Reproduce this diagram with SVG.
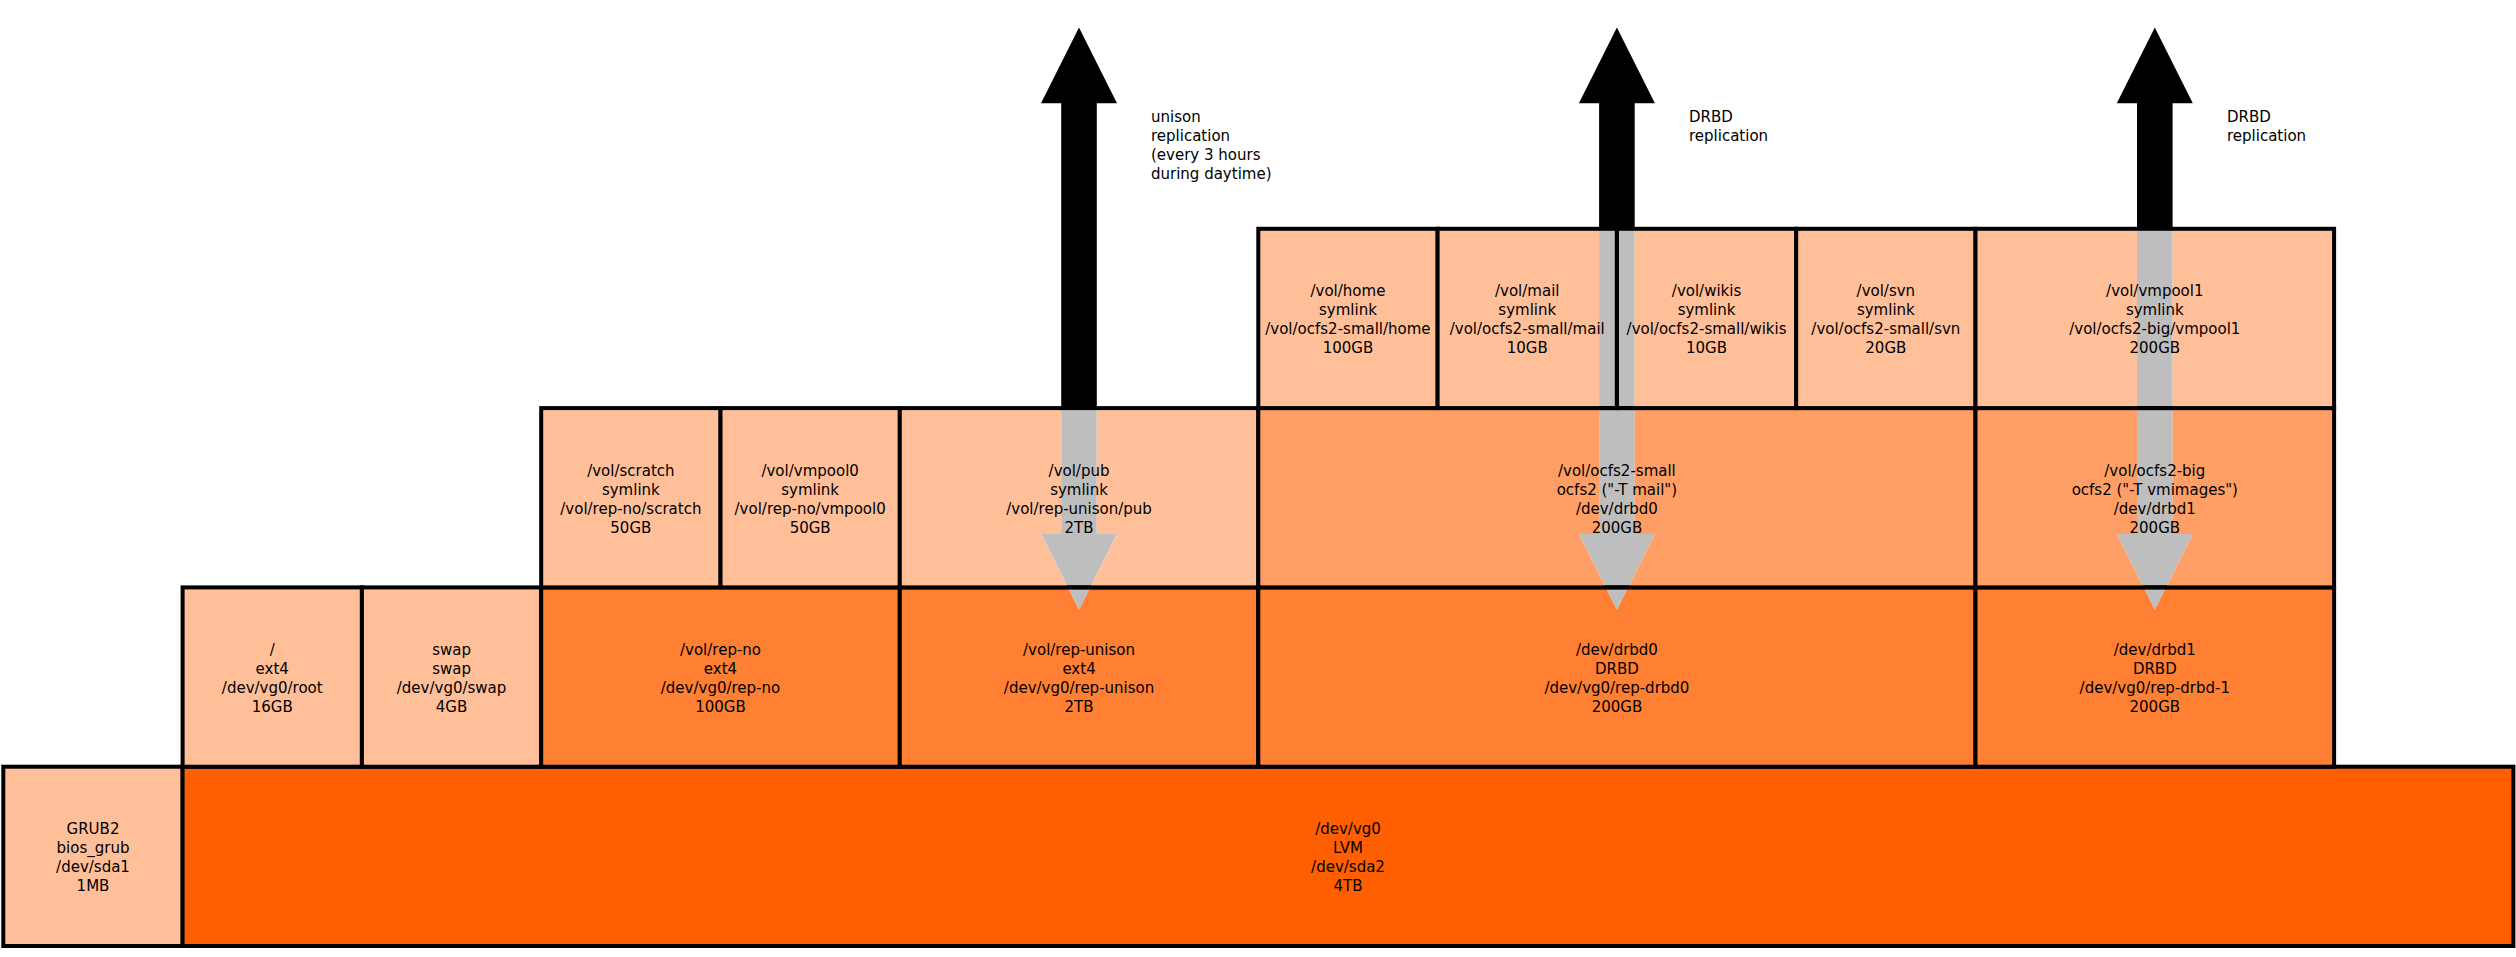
<svg xmlns="http://www.w3.org/2000/svg" xmlns:xlink="http://www.w3.org/1999/xlink" width="2516" height="957" viewBox="0 0 2516 957">
<style>
  .f{stroke:none;mask:url(#holes)}
  .l{fill:#FFBF99}
  .m{fill:#FF9F66}
  .o{fill:#FF7F33}
  .d{fill:#FF5F00}
  .b{fill:none;stroke:#000;stroke-width:4}
  text{font-family:"DejaVu Sans","Liberation Sans",sans-serif;font-size:15px;fill:#000}
  .t{text-anchor:middle}
  .up{fill:#000}
  .gray{fill:#BEBEBE}
</style>
<defs>
  <path id="g1" d="M1061.2,408.1 H1096.8 V534 H1117 L1079,610 L1041,534 H1061.2 Z"/>
  <path id="g2" d="M1599.1,228.8 H1634.7 V534 H1654.9 L1616.9,610 L1578.9,534 H1599.1 Z"/>
  <path id="g3" d="M2137,228.8 H2172.6 V534 H2192.8 L2154.8,610 L2116.8,534 H2137 Z"/>
  <mask id="holes" maskUnits="userSpaceOnUse" x="0" y="0" width="2516" height="957">
    <rect x="0" y="0" width="2516" height="957" fill="#fff"/>
    <use href="#g1" xlink:href="#g1" fill="#000"/>
    <use href="#g2" xlink:href="#g2" fill="#000"/>
    <use href="#g3" xlink:href="#g3" fill="#000"/>
  </mask>
</defs>

<g id="connectors">
  <path class="up" d="M1079,27.5 L1117,103.3 H1096.8 V408.1 H1061.2 V103.3 H1041 Z"/>
  <path class="up" d="M1616.9,27.5 L1654.9,103.3 H1634.7 V228.8 H1599.1 V103.3 H1578.9 Z"/>
  <path class="up" d="M2154.8,27.5 L2192.8,103.3 H2172.6 V228.8 H2137 V103.3 H2116.8 Z"/>
  <use class="gray" href="#g1" xlink:href="#g1"/>
  <use class="gray" href="#g2" xlink:href="#g2"/>
  <use class="gray" href="#g3" xlink:href="#g3"/>
  <text x="1151" y="121.5"><tspan x="1151">unison</tspan><tspan x="1151" dy="19">replication</tspan><tspan x="1151" dy="19">(every 3 hours</tspan><tspan x="1151" dy="19">during daytime)</tspan></text>
  <text x="1689" y="121.5"><tspan x="1689">DRBD</tspan><tspan x="1689" dy="19">replication</tspan></text>
  <text x="2227" y="121.5"><tspan x="2227">DRBD</tspan><tspan x="2227" dy="19">replication</tspan></text>
</g>

<g id="nodes">
  <g id="grub">
    <rect class="f l" x="3.3" y="766.7" width="179.3" height="179.3"/>
    <rect class="b" x="3.3" y="766.7" width="179.3" height="179.3"/>
    <text class="t" y="834.3"><tspan x="93">GRUB2</tspan><tspan x="93" dy="19">bios_grub</tspan><tspan x="93" dy="19">/dev/sda1</tspan><tspan x="93" dy="19">1MB</tspan></text>
  </g>
  <g id="lvm">
    <rect class="f d" x="182.6" y="766.7" width="2330.8" height="179.3"/>
    <rect class="b" x="182.6" y="766.7" width="2330.8" height="179.3"/>
    <text class="t" y="834.3"><tspan x="1348">/dev/vg0</tspan><tspan x="1348" dy="19">LVM</tspan><tspan x="1348" dy="19">/dev/sda2</tspan><tspan x="1348" dy="19">4TB</tspan></text>
  </g>
  <g id="root">
    <rect class="f l" x="182.6" y="587.4" width="179.3" height="179.3"/>
    <rect class="b" x="182.6" y="587.4" width="179.3" height="179.3"/>
    <text class="t" y="655"><tspan x="272.25">/</tspan><tspan x="272.25" dy="19">ext4</tspan><tspan x="272.25" dy="19">/dev/vg0/root</tspan><tspan x="272.25" dy="19">16GB</tspan></text>
  </g>
  <g id="swap">
    <rect class="f l" x="361.9" y="587.4" width="179.3" height="179.3"/>
    <rect class="b" x="361.9" y="587.4" width="179.3" height="179.3"/>
    <text class="t" y="655"><tspan x="451.55">swap</tspan><tspan x="451.55" dy="19">swap</tspan><tspan x="451.55" dy="19">/dev/vg0/swap</tspan><tspan x="451.55" dy="19">4GB</tspan></text>
  </g>
  <g id="rep-no">
    <rect class="f o" x="541.2" y="587.4" width="358.6" height="179.3"/>
    <rect class="b" x="541.2" y="587.4" width="358.6" height="179.3"/>
    <text class="t" y="655"><tspan x="720.5">/vol/rep-no</tspan><tspan x="720.5" dy="19">ext4</tspan><tspan x="720.5" dy="19">/dev/vg0/rep-no</tspan><tspan x="720.5" dy="19">100GB</tspan></text>
  </g>
  <g id="rep-unison">
    <rect class="f o" x="899.8" y="587.4" width="358.5" height="179.3"/>
    <rect class="b" x="899.8" y="587.4" width="358.5" height="179.3"/>
    <text class="t" y="655"><tspan x="1079.05">/vol/rep-unison</tspan><tspan x="1079.05" dy="19">ext4</tspan><tspan x="1079.05" dy="19">/dev/vg0/rep-unison</tspan><tspan x="1079.05" dy="19">2TB</tspan></text>
  </g>
  <g id="drbd0">
    <rect class="f o" x="1258.3" y="587.4" width="717.2" height="179.3"/>
    <rect class="b" x="1258.3" y="587.4" width="717.2" height="179.3"/>
    <text class="t" y="655"><tspan x="1616.9">/dev/drbd0</tspan><tspan x="1616.9" dy="19">DRBD</tspan><tspan x="1616.9" dy="19">/dev/vg0/rep-drbd0</tspan><tspan x="1616.9" dy="19">200GB</tspan></text>
  </g>
  <g id="drbd1">
    <rect class="f o" x="1975.5" y="587.4" width="358.6" height="179.3"/>
    <rect class="b" x="1975.5" y="587.4" width="358.6" height="179.3"/>
    <text class="t" y="655"><tspan x="2154.8">/dev/drbd1</tspan><tspan x="2154.8" dy="19">DRBD</tspan><tspan x="2154.8" dy="19">/dev/vg0/rep-drbd-1</tspan><tspan x="2154.8" dy="19">200GB</tspan></text>
  </g>
  <g id="scratch">
    <rect class="f l" x="541.2" y="408.1" width="179.3" height="179.3"/>
    <rect class="b" x="541.2" y="408.1" width="179.3" height="179.3"/>
    <text class="t" y="475.7"><tspan x="630.85">/vol/scratch</tspan><tspan x="630.85" dy="19">symlink</tspan><tspan x="630.85" dy="19">/vol/rep-no/scratch</tspan><tspan x="630.85" dy="19">50GB</tspan></text>
  </g>
  <g id="vmpool0">
    <rect class="f l" x="720.5" y="408.1" width="179.3" height="179.3"/>
    <rect class="b" x="720.5" y="408.1" width="179.3" height="179.3"/>
    <text class="t" y="475.7"><tspan x="810.15">/vol/vmpool0</tspan><tspan x="810.15" dy="19">symlink</tspan><tspan x="810.15" dy="19">/vol/rep-no/vmpool0</tspan><tspan x="810.15" dy="19">50GB</tspan></text>
  </g>
  <g id="pub">
    <rect class="f l" x="899.8" y="408.1" width="358.5" height="179.3"/>
    <rect class="b" x="899.8" y="408.1" width="358.5" height="179.3"/>
    <text class="t" y="475.7"><tspan x="1079.05">/vol/pub</tspan><tspan x="1079.05" dy="19">symlink</tspan><tspan x="1079.05" dy="19">/vol/rep-unison/pub</tspan><tspan x="1079.05" dy="19">2TB</tspan></text>
  </g>
  <g id="ocfs2-small">
    <rect class="f m" x="1258.3" y="408.1" width="717.2" height="179.3"/>
    <rect class="b" x="1258.3" y="408.1" width="717.2" height="179.3"/>
    <text class="t" y="475.7"><tspan x="1616.9">/vol/ocfs2-small</tspan><tspan x="1616.9" dy="19">ocfs2 ("-T mail")</tspan><tspan x="1616.9" dy="19">/dev/drbd0</tspan><tspan x="1616.9" dy="19">200GB</tspan></text>
  </g>
  <g id="ocfs2-big">
    <rect class="f m" x="1975.5" y="408.1" width="358.6" height="179.3"/>
    <rect class="b" x="1975.5" y="408.1" width="358.6" height="179.3"/>
    <text class="t" y="475.7"><tspan x="2154.8">/vol/ocfs2-big</tspan><tspan x="2154.8" dy="19">ocfs2 ("-T vmimages")</tspan><tspan x="2154.8" dy="19">/dev/drbd1</tspan><tspan x="2154.8" dy="19">200GB</tspan></text>
  </g>
  <g id="home">
    <rect class="f l" x="1258.3" y="228.8" width="179.3" height="179.3"/>
    <rect class="b" x="1258.3" y="228.8" width="179.3" height="179.3"/>
    <text class="t" y="296.4"><tspan x="1347.95">/vol/home</tspan><tspan x="1347.95" dy="19">symlink</tspan><tspan x="1347.95" dy="19">/vol/ocfs2-small/home</tspan><tspan x="1347.95" dy="19">100GB</tspan></text>
  </g>
  <g id="mail">
    <rect class="f l" x="1437.6" y="228.8" width="179.3" height="179.3"/>
    <rect class="b" x="1437.6" y="228.8" width="179.3" height="179.3"/>
    <text class="t" y="296.4"><tspan x="1527.25">/vol/mail</tspan><tspan x="1527.25" dy="19">symlink</tspan><tspan x="1527.25" dy="19">/vol/ocfs2-small/mail</tspan><tspan x="1527.25" dy="19">10GB</tspan></text>
  </g>
  <g id="wikis">
    <rect class="f l" x="1616.9" y="228.8" width="179.3" height="179.3"/>
    <rect class="b" x="1616.9" y="228.8" width="179.3" height="179.3"/>
    <text class="t" y="296.4"><tspan x="1706.55">/vol/wikis</tspan><tspan x="1706.55" dy="19">symlink</tspan><tspan x="1706.55" dy="19">/vol/ocfs2-small/wikis</tspan><tspan x="1706.55" dy="19">10GB</tspan></text>
  </g>
  <g id="svn">
    <rect class="f l" x="1796.2" y="228.8" width="179.3" height="179.3"/>
    <rect class="b" x="1796.2" y="228.8" width="179.3" height="179.3"/>
    <text class="t" y="296.4"><tspan x="1885.85">/vol/svn</tspan><tspan x="1885.85" dy="19">symlink</tspan><tspan x="1885.85" dy="19">/vol/ocfs2-small/svn</tspan><tspan x="1885.85" dy="19">20GB</tspan></text>
  </g>
  <g id="vmpool1">
    <rect class="f l" x="1975.5" y="228.8" width="358.6" height="179.3"/>
    <rect class="b" x="1975.5" y="228.8" width="358.6" height="179.3"/>
    <text class="t" y="296.4"><tspan x="2154.8">/vol/vmpool1</tspan><tspan x="2154.8" dy="19">symlink</tspan><tspan x="2154.8" dy="19">/vol/ocfs2-big/vmpool1</tspan><tspan x="2154.8" dy="19">200GB</tspan></text>
  </g>
</g>
</svg>
